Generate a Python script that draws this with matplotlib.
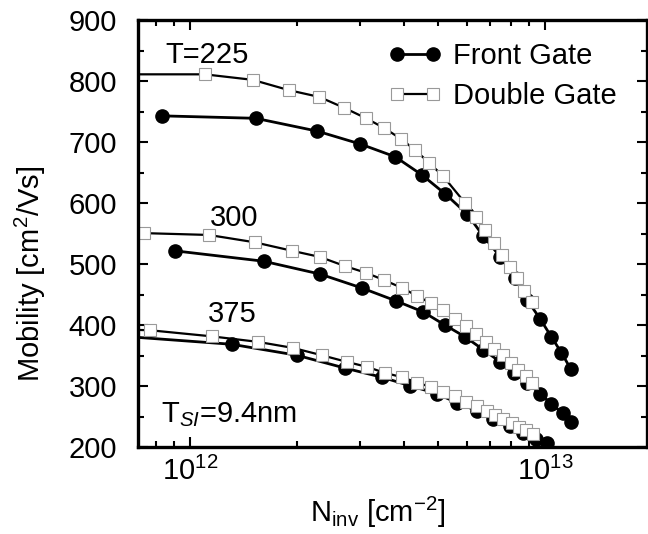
import numpy as np
import matplotlib
matplotlib.use("Agg")
import matplotlib.pyplot as plt
from matplotlib.ticker import MultipleLocator, LogLocator, NullFormatter, LogFormatterMathtext

plt.rcParams['font.family'] = ['Liberation Sans', 'DejaVu Sans']
plt.rcParams['mathtext.fontset'] = 'custom'
plt.rcParams['mathtext.rm'] = 'Liberation Sans'
plt.rcParams['mathtext.it'] = 'Liberation Sans:italic'
plt.rcParams['mathtext.bf'] = 'Liberation Sans:bold'

# T = 225 K
fg225_n = [8.34e11, 1.53e12, 2.28e12, 3.01e12, 3.78e12, 4.50e12, 5.23e12, 6.03e12,
           6.69e12, 7.47e12, 8.23e12, 8.90e12, 9.68e12, 1.04e13, 1.11e13, 1.18e13]
fg225_mu = [743, 739, 718, 697, 676, 646, 615, 582, 546, 512, 477, 441, 410, 381, 355, 328]
dg225_n = [6.5e11, 1.10e12, 1.50e12, 1.90e12, 2.31e12, 2.72e12, 3.13e12, 3.52e12, 3.93e12,
           4.30e12, 4.71e12, 5.16e12, 5.95e12, 6.39e12, 6.78e12, 7.18e12, 7.57e12,
           7.97e12, 8.34e12, 8.73e12, 9.19e12]
dg225_mu = [811, 811, 802, 785, 774, 756, 739, 723, 705, 687, 666, 644, 600, 577, 556,
            535, 515, 496, 478, 456, 438]

# T = 300 K
fg300_n = [9.07e11, 1.61e12, 2.32e12, 3.05e12, 3.80e12, 4.53e12, 5.23e12, 5.95e12,
           6.69e12, 7.47e12, 8.18e12, 8.90e12, 9.68e12, 1.04e13, 1.12e13, 1.18e13]
fg300_mu = [522, 505, 484, 461, 440, 422, 400, 381, 360, 340, 322, 306, 288, 271, 256, 242]
dg300_n = [7.42e11, 1.13e12, 1.52e12, 1.94e12, 2.32e12, 2.73e12, 3.13e12, 3.52e12, 3.96e12,
           4.36e12, 4.77e12, 5.16e12, 5.58e12, 5.99e12, 6.39e12, 6.82e12, 7.18e12,
           7.62e12, 8.02e12, 8.39e12, 8.84e12, 9.19e12]
dg300_mu = [551, 548, 536, 522, 512, 497, 486, 474, 461, 448, 436, 425, 410, 399, 386,
            373, 361, 351, 338, 327, 317, 306]

# T = 375 K
fg375_n = [6.5e11, 1.31e12, 2.00e12, 2.73e12, 3.47e12, 4.17e12, 4.96e12, 5.65e12,
           6.43e12, 7.14e12, 7.97e12, 8.67e12, 9.38e12, 1.01e13]
fg375_mu = [382, 369, 351, 330, 315, 301, 288, 273, 260, 247, 235, 224, 214, 207]
dg375_n = [6.5e11, 7.71e11, 1.15e12, 1.55e12, 1.95e12, 2.35e12, 2.77e12, 3.15e12, 3.54e12,
           3.96e12, 4.36e12, 4.77e12, 5.16e12, 5.58e12, 5.99e12, 6.43e12, 6.87e12,
           7.23e12, 7.62e12, 8.07e12, 8.45e12, 8.84e12, 9.25e12]
dg375_mu = [393, 392, 382, 373, 363, 351, 340, 332, 322, 315, 306, 299, 291, 284, 275,
            268, 260, 253, 247, 240, 234, 229, 222]

fig = plt.figure(figsize=(6.48, 5.34), dpi=100)
ax = fig.add_axes([0.213, 0.162, 0.786, 0.8006])

fg_style = dict(color="black", lw=2.0, marker="o", ms=9.5, mfc="black", mec="black")
dg_style = dict(color="black", lw=1.6, marker="s", ms=8.0, mfc="white", mec="#999999", mew=0.8)

fg_line, = ax.plot(fg225_n, fg225_mu, **fg_style)
ax.plot(fg300_n, fg300_mu, **fg_style)
ax.plot(fg375_n, fg375_mu, **fg_style)
dg_line, = ax.plot(dg225_n, dg225_mu, **dg_style)
ax.plot(dg300_n, dg300_mu, **dg_style)
ax.plot(dg375_n, dg375_mu, **dg_style)

ax.set_xscale("log")
ax.set_xlim(7.14e11, 1.936e13)
ax.set_ylim(200, 900)
ax.xaxis.set_major_locator(LogLocator(base=10))
ax.xaxis.set_major_formatter(LogFormatterMathtext())
ax.xaxis.set_minor_locator(LogLocator(base=10, subs=np.arange(2, 10)))
ax.xaxis.set_minor_formatter(NullFormatter())
ax.yaxis.set_major_locator(MultipleLocator(100))
ax.yaxis.set_minor_locator(MultipleLocator(50))

for s in ax.spines.values():
    s.set_linewidth(2.4)
ax.tick_params(which="both", direction="in", top=True, right=True, width=1.5)
ax.tick_params(which="major", length=7)
ax.tick_params(which="minor", length=4.3)
ax.tick_params(axis="y", labelsize=21, pad=15)
ax.tick_params(axis="x", labelsize=21, pad=6.5)

ax.set_xlabel(r"N$_{\rm inv}$ [cm$^{-2}$]", fontsize=21, va="top")
ax.xaxis.set_label_coords(0.47, -0.111)
ax.set_ylabel(r"Mobility [cm$^2$/Vs]", fontsize=21, va="bottom")
ax.yaxis.set_label_coords(-0.177, 0.407)

ax.text(8.5e11, 829, "T=225", fontsize=21, va="baseline")
ax.text(1.14e12, 563, "300", fontsize=21, va="baseline")
ax.text(1.12e12, 405, "375", fontsize=21, va="baseline")
ax.text(8.28e11, 242, r"T$_{SI}$=9.4nm", fontsize=21, va="baseline")

ax.legend([fg_line, dg_line], ["Front Gate", "Double Gate"], loc="upper left",
          bbox_to_anchor=(0.491, 0.9485), frameon=False, fontsize=21, numpoints=2,
          handlelength=1.83, handletextpad=0.39, labelspacing=0.42,
          borderpad=0, borderaxespad=0)

fig.savefig("out.png", dpi=100)
